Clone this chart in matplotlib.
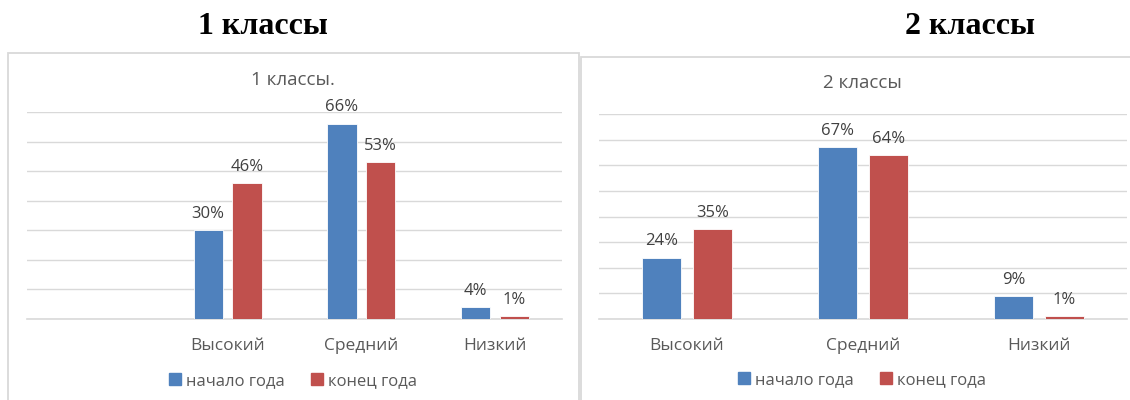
import numpy as np
import matplotlib.pyplot as plt
from matplotlib.patches import Rectangle, Patch

plt.rcParams['font.family'] = ['Open Sans', 'DejaVu Sans']

# данные (в процентах)
levels1 = ["", "Высокий", "Средний", "Низкий"]
start1 = [np.nan, 30, 66, 4]
end1 = [np.nan, 46, 53, 1]

levels2 = ["Высокий", "Средний", "Низкий"]
start2 = [24, 67, 9]
end2 = [35, 64, 1]

series = ["начало года", "конец года"]
colors = ["#4F81BD", "#C0504D"]

W, H = 1130, 400
fig = plt.figure(figsize=(W / 100, H / 100), dpi=100)


def px(x0, y0, x1, y1):
    # прямоугольник в пикселях -> доли фигуры
    return [x0 / W, 1 - y1 / H, (x1 - x0) / W, (y1 - y0) / H]


# рамки диаграмм
for x0, y0, x1 in [(8, 53, 579), (581, 57, 1145)]:
    fig.patches.append(Rectangle((x0 / W, -0.05), (x1 - x0) / W, 1.05 - y0 / H,
                                 transform=fig.transFigure, fill=False,
                                 edgecolor="#D9D9D9", linewidth=1.3))

fig.text(263 / W, 1 - 27 / H, "1 классы", ha="center", va="center",
         family="Liberation Serif", fontweight="bold", fontsize=23, color="black")
fig.text(970 / W, 1 - 27 / H, "2 классы", ha="center", va="center",
         family="Liberation Serif", fontweight="bold", fontsize=23, color="black")


def draw(rect, cats, a, b, ymax, title, title_xy, legend_y):
    ax = fig.add_axes(rect)
    x = np.arange(len(cats))
    w = 0.22
    for vals, off, c, name in [(a, -0.145, colors[0], series[0]),
                               (b, 0.145, colors[1], series[1])]:
        bars = ax.bar(x + off, vals, w, color=c, edgecolor="white",
                      linewidth=0.6, label=name, zorder=3)
        labels = ["" if np.isnan(v) else f"{v:.0f}%" for v in np.asarray(vals, float)]
        ax.bar_label(bars, labels=labels, padding=6, fontsize=12, color="#404040")
    ax.set_xlim(-0.5, len(cats) - 0.5)
    ax.set_ylim(0, ymax)
    ax.set_yticks(np.arange(0, ymax + 1, 10))
    ax.yaxis.grid(True, color="#D9D9D9", linewidth=1)
    ax.axhline(0, color="#D9D9D9", linewidth=1.2, zorder=2, clip_on=False)
    ax.set_axisbelow(True)
    ax.tick_params(left=False, labelleft=False, bottom=False)
    ax.set_xticks(x)
    ax.set_xticklabels(cats, fontsize=12.5, color="#595959")
    ax.tick_params(axis="x", pad=10)
    for s in ax.spines.values():
        s.set_visible(False)
    fig.text(title_xy[0] / W, 1 - title_xy[1] / H, title, ha="center", va="center",
             fontsize=13.5, color="#595959")
    handles = [Patch(color=colors[0], label=series[0]),
               Patch(color=colors[1], label=series[1])]
    fig.legend(handles=handles, loc="center", ncol=2, frameon=False,
               bbox_to_anchor=(title_xy[0] / W, 1 - legend_y / H),
               fontsize=12, labelcolor="#595959", handlelength=0.7,
               handleheight=0.7, handletextpad=0.3, columnspacing=1.6)
    return ax


draw(px(27, 112, 562, 319), levels1, start1, end1, 70, "1 классы.", (293, 80), 381)
draw(px(599, 114, 1127, 319), levels2, start2, end2, 80, "2 классы", (862, 83), 380)

fig.savefig("out.png", dpi=100)
